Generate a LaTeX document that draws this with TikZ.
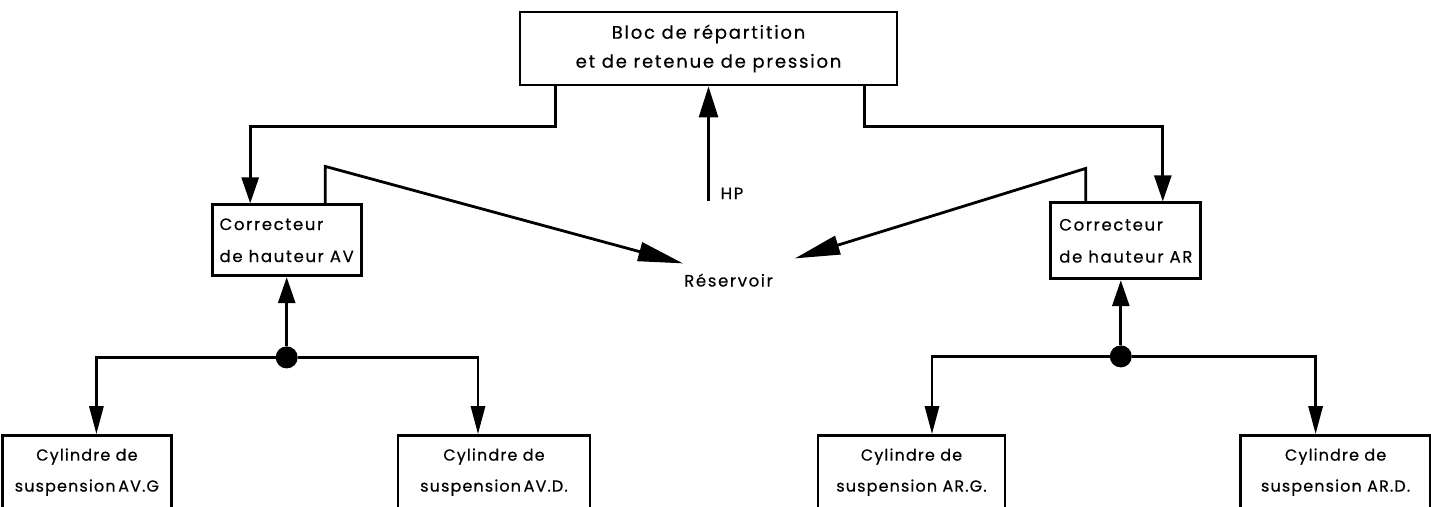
\documentclass[tikz,border=0pt]{standalone}
\usepackage{fontspec}
\setmainfont{Poppins}[LetterSpace=10, FakeBold=0.5]
\usetikzlibrary{positioning}
\usetikzlibrary{arrows.meta}

\begin{document}
\begin{tikzpicture}[x=1pt, y=1pt,
	font=\fontsize{16.5}{32}\selectfont,
	box/.style={draw, line width=2.8pt, inner sep=0pt, align=center},
	cyl/.style={box, minimum height=73pt, font=\fontsize{16}{31}\selectfont\addfontfeatures{LetterSpace=7}},
	pipe/.style={draw, line width=2.8pt, -{Triangle[length=26pt, width=17pt]}},
	drop/.style={draw, line width=2.8pt, -{Triangle[length=28pt, width=14pt]}},
	retour/.style={draw, line width=2.8pt, -{Triangle[length=45pt, width=19pt]}},
	dot/.style={circle, fill, inner sep=0pt, minimum size=22pt}]
	\useasboundingbox (0,0) rectangle (1431,-506);

	\node[box, minimum width=377pt, minimum height=73pt, font=\fontsize{18}{29}\selectfont] (bloc) at (708.5,-48.5) {Bloc de répartition\\et de retenue de pression};

	\node[box, align=left, minimum width=149pt, minimum height=71pt] (corrAV) [below left=117pt and 156pt of bloc] {Correcteur\\de hauteur AV};
	\node[box, align=left, minimum width=150pt, minimum height=76pt] (corrAR) [below right=115pt and 151pt of bloc] {Correcteur\\de hauteur AR};

	\coordinate[below=115pt of bloc.south] (hpin);
	\node[inner sep=0pt] (hp) [above right=2pt and 12pt of hpin] {HP};
	\node[inner sep=0pt] (res) [below=72pt of hpin, xshift=20pt] {Réservoir};
	\coordinate[above right=10pt and -1pt of res.north west] (resL);
	\coordinate[above right=15pt and 22pt of res.north east] (resR);

	\node[dot] (jAV) [below=69pt of corrAV] {};
	\node[dot] (jAR) [below=65pt of corrAR, xshift=-5pt] {};

	\node[cyl, minimum width=169pt] (cylAVG) [below left=157pt and 38pt of corrAV] {Cylindre de\\suspension\,AV.G};
	\node[cyl, minimum width=192pt] (cylAVD) [below right=157pt and 34pt of corrAV] {Cylindre de\\suspension\,AV.D.};
	\node[cyl, minimum width=187pt] (cylARG) [below left=154pt and 43pt of corrAR] {Cylindre de\\suspension AR.G.};
	\node[cyl, minimum width=190pt] (cylARD) [below right=154pt and 37pt of corrAR] {Cylindre de\\suspension AR.D.};

	% alimentation depuis le bloc
	\path[pipe] ([xshift=37pt]bloc.south west) -- ++(0,-40) -| ([xshift=-36.5pt]corrAV.north);
	\path[pipe] ([xshift=-34pt]bloc.south east) -- ++(0,-40) -| ([xshift=37pt]corrAR.north);
	\path[pipe, -{Triangle[length=31pt, width=19pt]}] (hpin) -- (hpin |- bloc.south);

	% retours au reservoir
	\path[retour] ([xshift=38.5pt]corrAV.north) -- ++(0,37) -- (resL);
	\path[retour] ([xshift=-40pt]corrAR.north) -- ++(0,33) -- (resR);

	% cylindres
	\path[pipe] (jAV) -- (corrAV);
	\path[pipe] (jAR) -- (jAR |- corrAR.south);
	\path[drop] (jAV) -| ([xshift=9.5pt]cylAVG.north);
	\path[drop] (jAV) -| ([xshift=-16pt]cylAVD.north);
	\path[drop] (jAR) -| ([xshift=20.5pt]cylARG.north);
	\path[drop] (jAR) -| ([xshift=-20pt]cylARD.north);

\end{tikzpicture}
\end{document}
